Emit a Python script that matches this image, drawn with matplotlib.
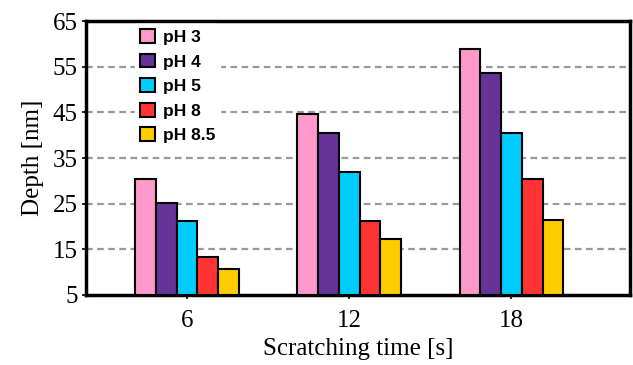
import matplotlib
matplotlib.use("Agg")
import matplotlib.pyplot as plt
import numpy as np

times = ["6", "12", "18"]
series = ["pH 3", "pH 4", "pH 5", "pH 8", "pH 8.5"]
ph3 = [30.3, 44.7, 58.8]
ph4 = [25.1, 40.4, 53.7]
ph5 = [21.2, 32.0, 40.4]
ph8 = [13.3, 21.2, 30.3]
ph85 = [10.6, 17.3, 21.4]
values = [ph3, ph4, ph5, ph8, ph85]
colors = ["#FF99CC", "#663399", "#00CCFF", "#FF3333", "#FFCC00"]

fig = plt.figure(figsize=(6.33, 3.65), dpi=100)
ax = fig.add_axes([0.136, 0.192, 0.859, 0.750])

x = np.arange(len(times))
w = 0.128
for i, (vals, c, lab) in enumerate(zip(values, colors, series)):
    ax.bar(x + (i - 2) * w, [v - 5 for v in vals], bottom=5, width=w, color=c,
           edgecolor="black", linewidth=1.5, label=lab, zorder=3)

ax.set_ylim(5, 65)
ax.set_xlim(-0.623, 2.73)
ax.set_yticks([5, 15, 25, 35, 45, 55, 65])
ax.set_xticks(x)
ax.set_xticklabels(times)
for yv in [15, 25, 35, 45, 55]:
    ax.axhline(yv, color="#999999", linestyle=(0, (3, 2)), linewidth=1.6, zorder=1)

for s in ax.spines.values():
    s.set_linewidth(2.5)
    s.set_color("black")

serif = "Liberation Serif"
ax.tick_params(axis="both", direction="out", length=3, width=1.2, labelsize=18)
ax.tick_params(axis="x", pad=8)
ax.tick_params(axis="y", pad=3)
for lbl in ax.get_xticklabels() + ax.get_yticklabels():
    lbl.set_fontfamily(serif)
ax.set_xlabel("Scratching time [s]", fontfamily=serif, fontsize=18, labelpad=4)
ax.set_ylabel("Depth [nm]", fontfamily=serif, fontsize=18, labelpad=6)

leg = ax.legend(loc="upper left", bbox_to_anchor=(0.085, 1.0), frameon=True,
                prop={"family": "Liberation Sans", "weight": "bold", "size": 12.5},
                handlelength=0.85, handleheight=0.85, handletextpad=0.45,
                labelspacing=0.5, borderpad=0.3, borderaxespad=0.15)
leg.get_frame().set_edgecolor("white")
leg.get_frame().set_facecolor("white")
leg.get_frame().set_alpha(1)
leg.set_zorder(5)

fig.savefig("out.png", dpi=100)
